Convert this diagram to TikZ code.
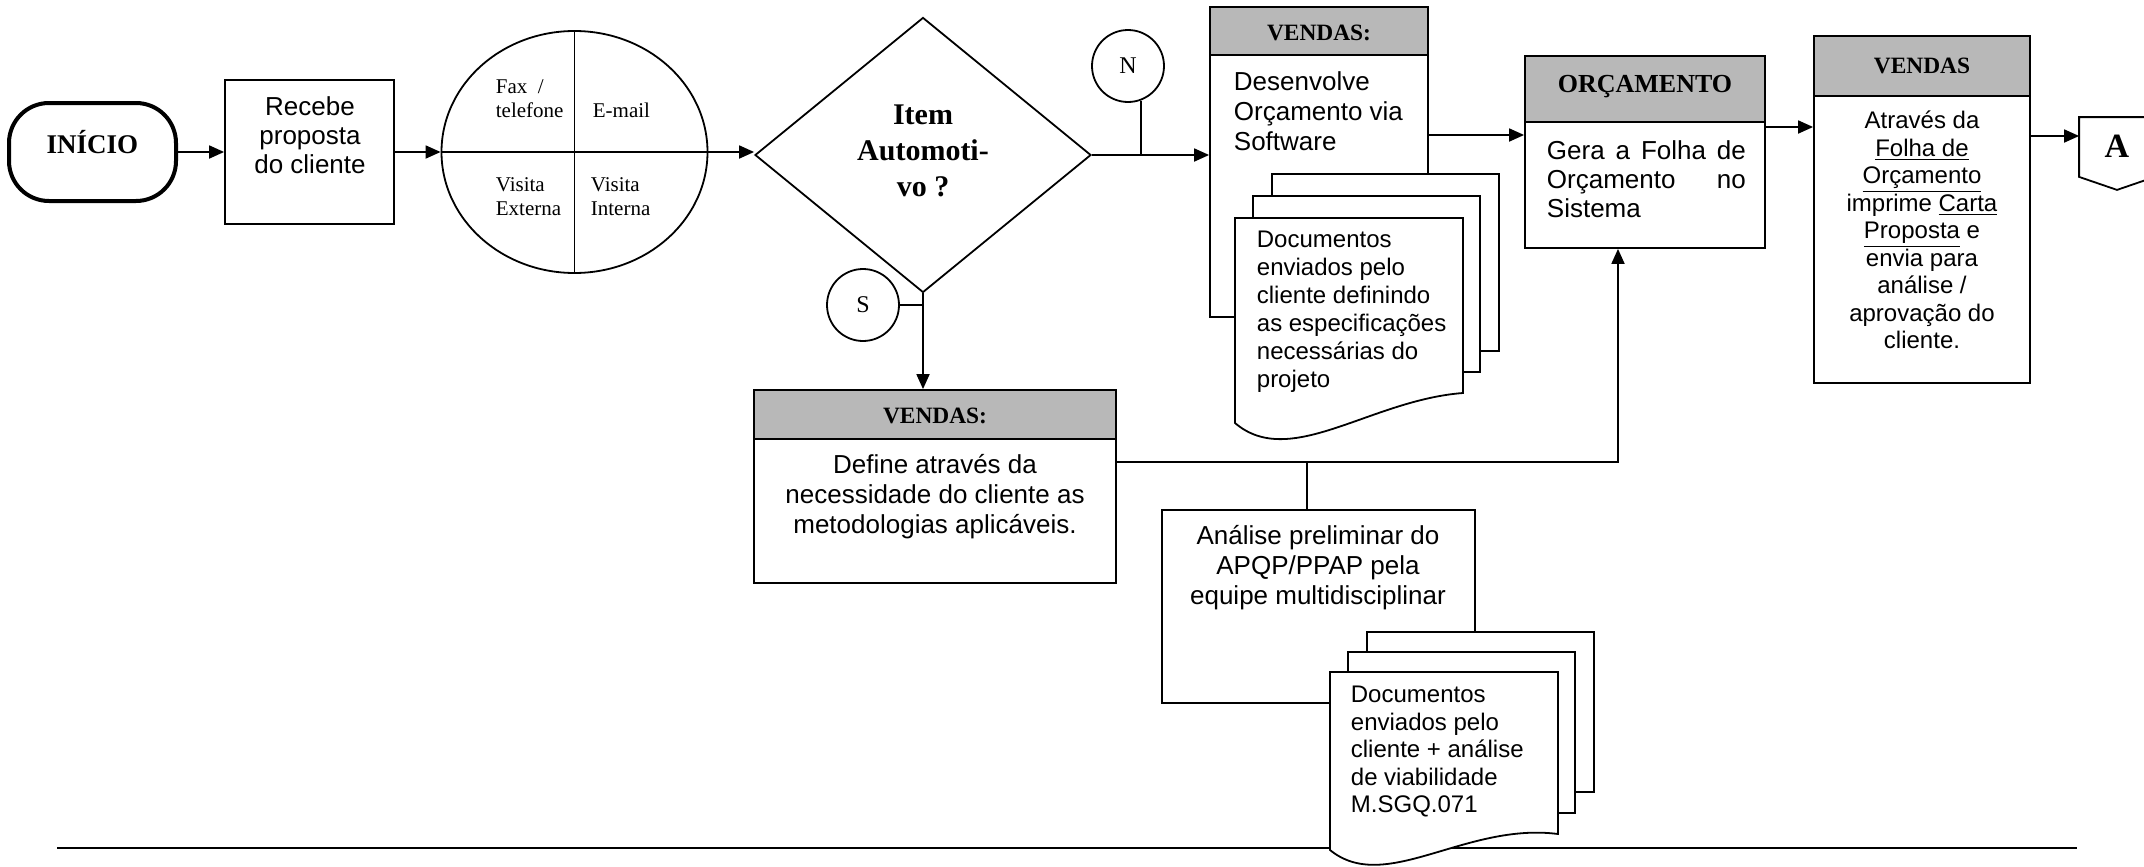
\documentclass[tikz,border=0pt]{standalone}
\usepackage{fontspec}
\setmainfont{Liberation Serif}
\setsansfont{Liberation Sans}
\usetikzlibrary{arrows.meta,shapes.geometric}
\newcommand\topst{\vrule height 1em depth 0pt width 0pt\relax}
\begin{document}
\begin{tikzpicture}[x=0.5pt,y=-0.5pt,line width=0.9pt,
 arr/.style={-{Triangle[length=7.5pt,width=6.5pt]}},
 box/.style={draw,fill=white,inner sep=0pt},
 hdr/.style={draw,fill=black!28,inner sep=0pt,font=\bfseries\fontsize{11.7}{14}\selectfont,text depth=0pt},
 txt/.style={inner sep=0pt,anchor=north},
 sA/.style={font=\sffamily\fontsize{13}{14.5}\selectfont},
 sB/.style={font=\sffamily\fontsize{12}{14}\selectfont},
 cir/.style={font=\fontsize{10.5}{12}\selectfont},
 letter/.style={draw,circle,inner sep=0pt,minimum size=36pt,font=\fontsize{12}{14}\selectfont,text height=7.5pt,text depth=0pt}]
\useasboundingbox (0,0) rectangle (2144,867);

% bottom rule
\coordinate (bl1) at (57,848);
\coordinate (bl2) at (2077,848);
\draw[line width=1pt] (bl1) -- (bl2);

% start
\node[draw,line width=2pt,rounded corners=20pt,minimum width=83.5pt,minimum height=49pt,inner sep=0pt,
  font=\bfseries\fontsize{13.5}{16}\selectfont,text height=1pt,text depth=0pt] (inicio) at (92.5,152) {INÍCIO};

\node[box,minimum width=84.5pt,minimum height=72pt] (recebe) at (309.5,152) {};
\node[txt,sA,align=center] at (310,89) {\topst Recebe\\proposta\\do cliente};

% channels circle
\node[draw,ellipse,inner sep=0pt,minimum width=133pt,minimum height=121pt] (circ) at (574.5,152) {};
\draw (circ.north) -- (circ.south) (circ.west) -- (circ.east);
\node[txt,cir,anchor=north west,align=left] at (495,72) {\topst Fax\ \ /\\telefone};
\node[cir,inner sep=0pt,anchor=base west] at (592,117) {E-mail};
\node[txt,cir,anchor=north west,align=left] at (495,170) {\topst Visita\\Externa};
\node[txt,cir,anchor=north west,align=left] at (590,170) {\topst Visita\\Interna};

% decision
\node[draw,diamond,inner sep=0pt,minimum width=168pt,minimum height=137.5pt] (dia) at (923,155) {};
\node[txt,align=center,font=\bfseries\fontsize{15}{18}\selectfont] at (923,94) {\topst Item\\Automoti-\\vo ?};
\node[letter] (ncirc) at (1128,66) {N};
\node[letter] (scirc) at (863,305) {S};

% VENDAS 1
\node[box,minimum width=109pt,minimum height=155pt] (v1) at (1319,162) {};
\node[hdr,minimum width=109pt,minimum height=24pt,text height=9pt] (v1h) at (1319,31) {VENDAS:};
\node[txt,anchor=north west,align=left,font=\sffamily\fontsize{13}{15}\selectfont] at (1233,64) {\topst Desenvolve\\Orçamento via\\Software};

% documents 1
\draw[fill=white] (1272,174) rectangle (1499,351);
\draw[fill=white] (1253,196) rectangle (1480,372);
\draw[fill=white] (1235,218) -- (1463,218) -- (1463,393) .. controls (1370,400) and (1290,470) .. (1235,423) -- cycle;
\node[txt,sB,anchor=north west,align=left] at (1256,223) {\topst Documentos\\enviados pelo\\cliente definindo\\as especificações\\necessárias do\\projeto};

% ORCAMENTO
\node[box,minimum width=120pt,minimum height=96pt] (orc) at (1645,152) {};
\node[hdr,minimum width=120pt,minimum height=33pt,text height=3pt,font=\bfseries\fontsize{13}{15}\selectfont] (orch) at (1645,89) {ORÇAMENTO};
\node[txt,sA,anchor=north west,align=left] at (1546,133) {\hbox to 99.5pt{\topst Gera a Folha de}\\\hbox to 99.5pt{Orçamento\hfill no}\\Sistema};

% VENDAS 3
\node[box,minimum width=108pt,minimum height=173.5pt] (v3) at (1922,209.5) {};
\node[hdr,minimum width=108pt,minimum height=30pt,text height=7pt] (v3h) at (1922,66) {VENDAS};
\node[txt,align=center,font=\sffamily\fontsize{12}{13.75}\selectfont] at (1922,104) {\topst Através da\\\underline{Folha de}\\\underline{Orçamento}\\imprime \underline{Carta}\\\underline{Proposta} e\\envia para\\análise /\\aprovação do\\cliente.};

% off-page connector A
\node[inner sep=0pt,minimum width=37pt,minimum height=35.5pt,font=\bfseries\fontsize{17}{20}\selectfont,text height=3.5pt,text depth=0pt] (apent) at (2117,153.5) {A};
\draw (apent.north west) -- (apent.north east) -- ([yshift=6.5pt]apent.south east) -- (apent.south) -- ([yshift=6.5pt]apent.south west) -- cycle;

% VENDAS 2
\node[box,minimum width=181pt,minimum height=96.5pt] (v2) at (935,486.5) {};
\node[hdr,minimum width=181pt,minimum height=24.5pt,text height=8.5pt] (v2h) at (935,414.5) {VENDAS:};
\node[txt,align=center,font=\sffamily\fontsize{13}{15}\selectfont] at (935,447) {\topst Define através da\\necessidade do cliente as\\metodologias aplicáveis.};

% Analise
\node[box,minimum width=156.5pt,minimum height=96.5pt] (anl) at (1318.5,606.5) {};
\node[txt,align=center,font=\sffamily\fontsize{13}{15}\selectfont] at (1318,518) {\topst Análise preliminar do\\APQP/PPAP pela\\equipe multidisciplinar};

% documents 2
\draw[fill=white] (1367,632) rectangle (1594,792);
\draw[fill=white] (1348,652) rectangle (1575,813);
\draw[fill=white] (1330,672) -- (1558,672) -- (1558,834) .. controls (1465,822) and (1385,895) .. (1330,850) -- cycle;
\node[txt,anchor=north west,align=left,font=\sffamily\fontsize{12}{13.75}\selectfont] at (1350,678) {\topst Documentos\\enviados pelo\\cliente + análise\\de viabilidade\\M.SGQ.071};

% connectors
\coordinate (r135) at (0,135);
\coordinate (r127) at (0,127);
\coordinate (r136) at (0,136);
\coordinate (c1) at (1618,462);
\coordinate (j1) at (1307,462);
\draw[arr] (inicio.east) -- (recebe.west);
\draw[arr] (recebe.east) -- (circ.west);
\draw[arr] (circ.east) -- (circ.east -| dia.west);
\draw[arr] (dia.east) -- (dia.east -| v1.west);
\draw (ncirc.-70.5) -- (ncirc.-70.5 |- dia.east);
\draw (scirc.east) -- (scirc.east -| dia.south);
\draw[arr] (dia.south) -- (dia.south |- v2h.north);
\draw[arr] (v1.east |- r135) -- (orc.west |- r135);
\draw[arr] (orc.east |- r127) -- (v3.west |- r127);
\draw[arr] (v3.east |- r136) -- (apent.west |- r136);
\draw[arr] (v2.east |- c1) -- (c1) -- (c1 |- orc.south);
\draw (j1) -- (j1 |- anl.north);
\end{tikzpicture}
\end{document}
